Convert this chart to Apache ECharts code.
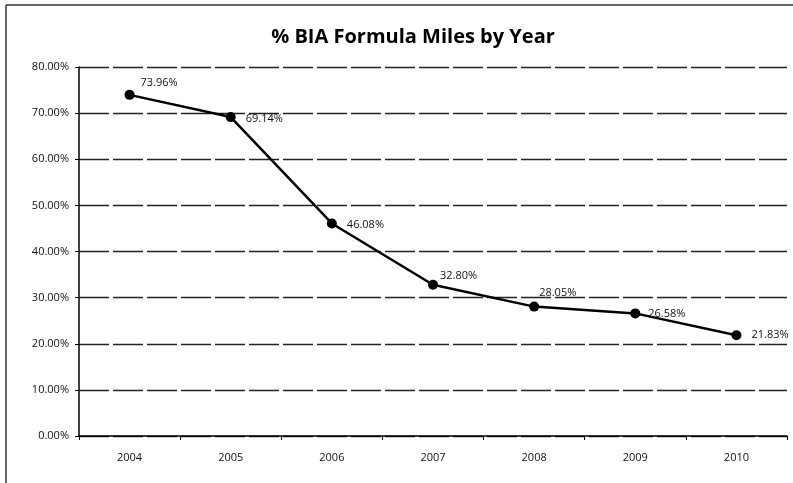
<!DOCTYPE html>
<html><head><meta charset="utf-8">
<script src="https://cdn.jsdelivr.net/npm/echarts@6/dist/echarts.min.js"></script>
<style>html,body{margin:0;padding:0;background:#fff}#c{width:793px;height:483px}</style>
</head><body><div id="c"></div>
<script>
const title = '% BIA Formula Miles by Year';
const years = ['2004','2005','2006','2007','2008','2009','2010'];
const values = [73.96, 69.14, 46.08, 32.80, 28.05, 26.58, 21.83];
const yTicks = [0,10,20,30,40,50,60,70,80];

// label offsets (styling only)
const labelOffsets = [[0,-12],[4,2],[4,1],[-4,-9],[-6,-14],[2,0],[4,0]];

const chart = echarts.init(document.getElementById('c'));
chart.setOption({
  animation:false,
  backgroundColor:'#fff',
  title:{text:title,left:408,top:22,textAlign:'center',
    textStyle:{fontFamily:'Open Sans',fontWeight:'bold',fontSize:20,color:'#000'}},
  grid:{left:79,right:6,top:67,bottom:47},
  graphic:[
    {type:'line',shape:{x1:6,y1:5,x2:793,y2:5},style:{stroke:'#333',lineWidth:1.5}},
    {type:'line',shape:{x1:6,y1:5,x2:6,y2:483},style:{stroke:'#333',lineWidth:1.5}}
  ],
  xAxis:{type:'category',data:years,boundaryGap:true,
    axisLine:{lineStyle:{color:'#000',width:1.5}},
    axisTick:{show:true,alignWithLabel:false,length:4,lineStyle:{color:'#000'}},
    axisLabel:{color:'#111',fontFamily:'Open Sans',fontSize:11,margin:16}},
  yAxis:{type:'value',min:yTicks[0],max:yTicks[yTicks.length-1],interval:10,
    axisLine:{show:true,lineStyle:{color:'#000',width:1.5}},
    axisTick:{show:true,length:4,lineStyle:{color:'#000'}},
    splitLine:{lineStyle:{color:'#222',width:1.3,type:[30,4]}},
    axisLabel:{color:'#111',fontFamily:'Open Sans',fontSize:11,margin:10,
      formatter:v=>v.toFixed(2)+'%'}},
  series:[{type:'line',
    data:values.map((v,i)=>({value:v,label:{offset:labelOffsets[i]}})),
    symbol:'circle',symbolSize:10,
    lineStyle:{color:'#000',width:2.5},itemStyle:{color:'#000'},
    label:{show:true,position:'right',distance:6,fontFamily:'Open Sans',fontSize:11,color:'#111',
      formatter:p=>p.value.toFixed(2)+'%'}}]
});
</script></body></html>
